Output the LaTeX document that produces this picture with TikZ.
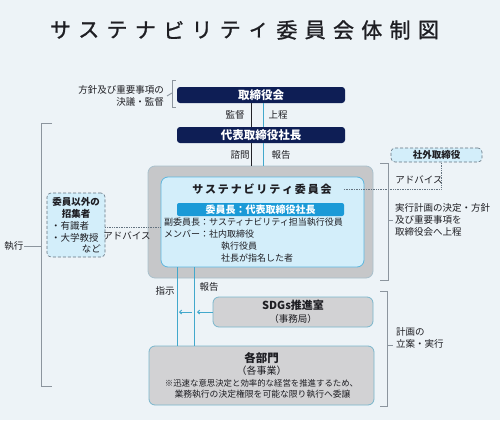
\documentclass[tikz,border=0pt]{standalone}
\usepackage{fontspec}
\setmainfont{Noto Sans CJK JP}
\newfontfamily\ttlfont[FakeBold=1.2]{Noto Sans CJK JP}
\usetikzlibrary{calc,arrows.meta}
\definecolor{navy}{RGB}{14,30,85}
\definecolor{lblue}{RGB}{66,168,204}
\definecolor{darkln}{RGB}{34,34,40}
\definecolor{brk}{RGB}{140,149,158}
\definecolor{bg}{RGB}{237,243,247}
\definecolor{outerfill}{RGB}{198,199,201}
\definecolor{outerdraw}{RGB}{169,192,204}
\definecolor{innerfill}{RGB}{211,238,250}
\definecolor{innerdraw}{RGB}{93,183,222}
\definecolor{chairbar}{RGB}{27,154,215}
\definecolor{grayfill}{RGB}{210,210,212}
\definecolor{graydraw}{RGB}{122,182,204}
\definecolor{dashdraw}{RGB}{100,115,128}
\definecolor{txtc}{RGB}{30,30,35}
\tikzset{
  txt/.style={inner sep=0pt, text=txtc, font=\fontsize{9.5}{12}\selectfont},
  smalltxt/.style={inner sep=0pt, text=txtc, font=\fontsize{9}{12}\selectfont},
  titlech/.style={inner sep=0pt, text=txtc, font=\ttlfont\fontsize{21}{24}\selectfont},
  navybox/.style={fill=navy, rounded corners=3pt, minimum width=168pt, minimum height=16pt,
    text=white, font=\bfseries\fontsize{11.5}{13}\selectfont, inner sep=0pt},
  grayboxs/.style={fill=grayfill, draw=graydraw, line width=0.8pt, rounded corners=6pt, inner sep=0pt},
  dashbox/.style={fill=innerfill, draw=dashdraw, densely dashed, line width=0.6pt, rounded corners=4pt, inner sep=0pt},
  brkline/.style={draw=brk, line width=0.9pt},
  dkline/.style={draw=darkln, line width=1pt},
  lbline/.style={draw=lblue, line width=1pt},
  dotline/.style={draw=dashdraw, densely dotted, line width=0.7pt},
}
\begin{document}
\begin{tikzpicture}[x=1pt,y=-1pt]
\fill[bg] (0,0) rectangle (500,420);
\useasboundingbox (0,0) rectangle (500,420);

% title
\foreach \c [count=\i from 0] in {サ,ス,テ,ナ,ビ,リ,テ,ィ,委,員,会,体,制,図}
  \node[titlech] (t\i) at (60.5+28.3*\i,30) {\c};

% board and president
\node[navybox] (board) at (261,95) {取締役会};
\node[navybox] (pres) at (261,135) {代表取締役社長};

% committee
\node[fill=outerfill, draw=outerdraw, line width=0.8pt, rounded corners=7pt,
      minimum width=225pt, minimum height=112pt, inner sep=0pt] (outer) at (260.5,222) {};
\node[fill=innerfill, draw=innerdraw, line width=0.8pt, rounded corners=7pt,
      minimum width=203pt, minimum height=90pt, inner sep=0pt] (inner) at (262.5,222) {};
\node[inner sep=0pt, text=txtc, font=\bfseries\fontsize{11}{13}\selectfont] (ctitle) at (262,189)
  {サ\,ス\,テ\,ナ\,ビ\,リ\,テ\,ィ\,委\,員\,会};
\node[fill=chairbar, rounded corners=2pt, minimum width=167pt, minimum height=13pt, inner sep=0pt,
      text=white, font=\bfseries\fontsize{10}{12}\selectfont] (chair) at (260.5,209.5) {委員長：代表取締役社長};
\node[smalltxt, anchor=west] (vice) at (164,222) {副委員長：サスティナビリティ担当執行役員};
\node[smalltxt, anchor=west] (memlbl) at (164,234) {メンバー};
\node[smalltxt, anchor=west] (mem1) at (200,234) {：社内取締役};
\node[smalltxt, anchor=west] (mem2) at (221,246) {執行役員};
\node[smalltxt, anchor=west] (mem3) at (221,258) {社長が指名した者};

% SDGs and departments
\node[grayboxs, minimum width=160pt, minimum height=30pt] (sdgs) at (293,312) {};
\node[inner sep=0pt, text=txtc, font=\bfseries\fontsize{11}{13}\selectfont] (sdgst) at (293,305) {SDGs推進室};
\node[txt] (sdgss) at (293,318.5) {（事務局）};
\node[grayboxs, minimum width=225pt, minimum height=59pt] (depts) at (261.5,375.5) {};
\node[inner sep=0pt, text=txtc, font=\bfseries\fontsize{11.5}{13}\selectfont] (deptt) at (261.5,358) {各部門};
\node[txt, font=\fontsize{10}{12}\selectfont] (depts2) at (261.5,370.5) {（各事業）};
\node[inner sep=0pt, text=txtc, font=\fontsize{8.4}{10}\selectfont] (note1) at (261.5,383) {※迅速な意思決定と効率的な経営を推進するため、};
\node[inner sep=0pt, text=txtc, font=\fontsize{8.8}{10}\selectfont] (note2) at (262.5,394.5) {業務執行の決定権限を可能な限り執行へ委譲};

% outside directors
\node[dashbox, minimum width=91pt, minimum height=14pt, text=txtc,
      font=\bfseries\fontsize{9.5}{11}\selectfont] (outdir) at (436.5,155) {社外取締役};
\node[txt] (adv1) at (419,180) {アドバイス};

% invitees
\node[dashbox, minimum width=58pt, minimum height=64pt] (inv) at (76,225) {};
\node[inner sep=0pt, text=txtc, font=\bfseries\fontsize{9.5}{11}\selectfont] (inv1) at (76,202) {委員以外の};
\node[inner sep=0pt, text=txtc, font=\bfseries\fontsize{9.5}{11}\selectfont] (inv2) at (76,213.5) {招集者};
\node[txt, anchor=west] (inv3) at (51,225.5) {・有識者};
\node[txt, anchor=west] (inv4) at (51,237.5) {・大学教授};
\node[txt, anchor=east] (inv5) at (101,248.5) {など};
\node[txt] (adv2) at (127,236) {アドバイス};

% labels
\node[txt, align=right, anchor=east] (policy) at (164,96) {方針及び重要事項の\\決議・監督};
\node[txt] (l1) at (235,115) {監督};
\node[txt] (l2) at (278,115) {上程};
\node[txt] (l3) at (240,155) {諮問};
\node[txt] (l4) at (281,155) {報告};
\node[txt] (l5) at (165,291) {指示};
\node[txt] (l6) at (209,287) {報告};
\node[txt, align=left, anchor=north west] (exec1) at (395,203) {実行計画の決定・方針\\及び重要事項を\\取締役会へ上程};
\node[txt, align=left, anchor=west] (exec2) at (396,338) {計画の\\立案・実行};
\node[txt] (shikko) at (14,246) {執行};

% vertical connectors
\coordinate (xa) at (251,0);
\coordinate (xb) at (263,0);
\coordinate (xc) at (177,0);
\coordinate (xd) at (194.5,0);
\draw[dkline] (board.south -| xa) -- (pres.north -| xa);
\draw[lbline] (board.south -| xb) -- (pres.north -| xb);
\draw[dkline] (pres.south -| xa) -- (outer.north -| xa);
\draw[lbline] (pres.south -| xb) -- (outer.north -| xb);
\draw[lbline] (inner.south -| xc) -- (depts.north -| xc);
\draw[lbline] (inner.south -| xd) -- (depts.north -| xd);
\coordinate (h1) at (197,312);
\coordinate (h2) at (192,312);
\coordinate (h3) at (179,312);
\draw[lbline, -{Straight Barb[length=2pt,width=4pt]}] (sdgs.west) -- (h1);
\draw[lbline, -{Straight Barb[length=2pt,width=4pt]}] (h2) -- (h3);

% dotted advice lines
\coordinate (ctr) at ($(ctitle.east)+(12,0)$);
\draw[dotline] (ctr) -| ($(outdir.south)+(4.5,0)$);
\draw[dotline] (inv.east |- 0,227) -- (inner.west |- 0,227);

% brackets
\draw[brkline] (176,80) -- (172,80) -- (172,107) -- (176,107);
\draw[brkline] (172,93) -- (policy.east -| 167,0);
\draw[brkline] (52,123) -- (41,123) -- (41,386) -- (52,386);
\draw[brkline] (41,246) -- (shikko.east);
\draw[brkline] (380,163) -- (388,163) -- (388,280) -- (380,280);
\draw[brkline] (388,220) -- (393,220);
\draw[brkline] (380,291) -- (387,291) -- (387,406) -- (380,406);
\draw[brkline] (387,345) -- (393,345);
\end{tikzpicture}
\end{document}
